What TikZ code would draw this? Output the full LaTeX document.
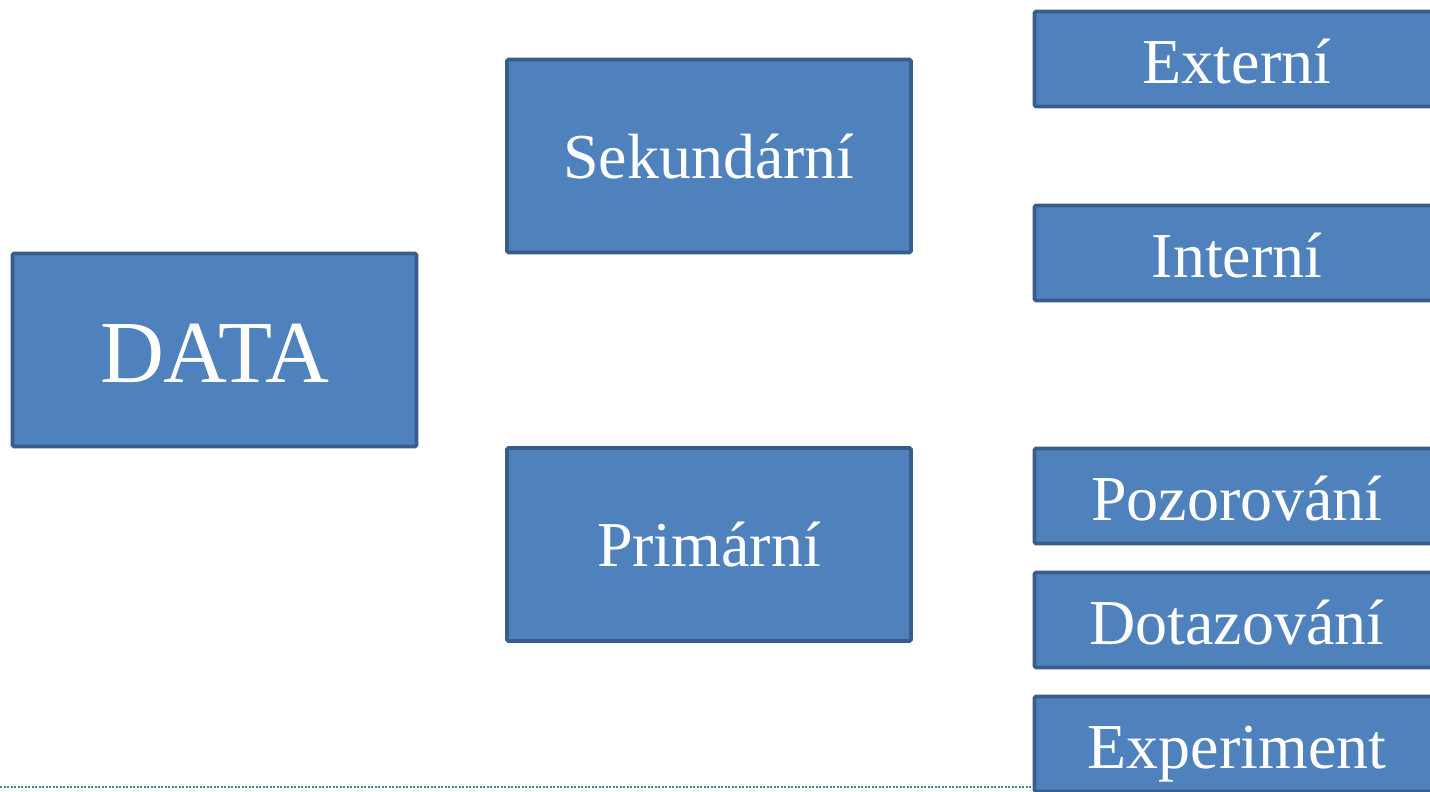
\documentclass[tikz,border=0pt]{standalone}
\usepackage{fontspec}
\setmainfont{Liberation Serif}
\definecolor{boxfill}{HTML}{4F81BD}
\definecolor{boxline}{HTML}{385D8A}
\definecolor{dotline}{HTML}{3E8A8A}
\begin{document}
\begin{tikzpicture}[x=1pt,y=-1pt,
  box/.style={draw=boxline, fill=boxfill, line width=3.6pt, rounded corners=1.5pt,
    text=white, inner sep=0pt},
  bigbox/.style={box, minimum width=404pt, minimum height=193pt,
    font=\fontsize{64}{66}\selectfont, text height=44.4pt, text depth=0pt},
  smallbox/.style={box, minimum width=405pt, minimum height=95pt,
    font=\fontsize{64}{66}\selectfont, text height=48.4pt, text depth=0pt}]
\useasboundingbox (0,0) rectangle (1430,792);
\clip (0,0) rectangle (1430,792);
\draw[dotline, line width=2pt, dash pattern=on 2pt off 1.5pt] (0,787) -- (1035,787);
\node[bigbox, font=\fontsize{88.5}{90}\selectfont, text height=64.6pt, text depth=0pt] (data) at (214.5,350) {DATA};
\node[bigbox] (sek) at (709,156) {Sekundární};
\node[bigbox] (prim) at (709,544.5) {Primární};
\node[smallbox] (ext) at (1237,59) {Externí};
\node[smallbox] (int) at (1237,253) {Interní};
\node[smallbox] (poz) at (1237,496) {Pozorování};
\node[smallbox] (dot) at (1237,620) {Dotazování};
\node[smallbox] (exp) at (1237,744) {Experiment};
\end{tikzpicture}
\end{document}
